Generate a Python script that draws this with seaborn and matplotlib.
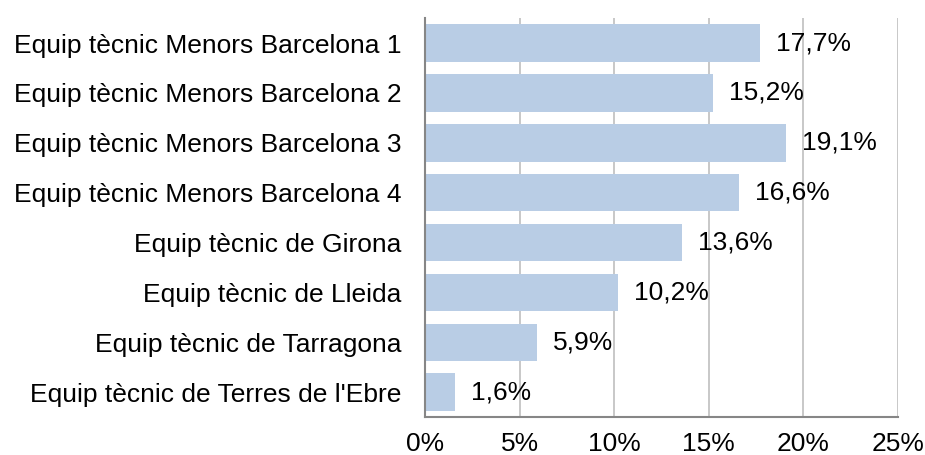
import pandas as pd
import numpy as np
import matplotlib
matplotlib.use("Agg")
import matplotlib.pyplot as plt
import seaborn as sns
from matplotlib.ticker import FixedLocator, FuncFormatter

equips = ["Equip tècnic Menors Barcelona 1", "Equip tècnic Menors Barcelona 2",
          "Equip tècnic Menors Barcelona 3", "Equip tècnic Menors Barcelona 4",
          "Equip tècnic de Girona", "Equip tècnic de Lleida",
          "Equip tècnic de Tarragona", "Equip tècnic de Terres de l'Ebre"]
percent = [17.7, 15.2, 19.1, 16.6, 13.6, 10.2, 5.9, 1.6]
x_ticks = [0, 5, 10, 15, 20, 25]

df = pd.DataFrame({"equip": equips, "pct": percent})

sns.set_style("white")
plt.rcParams["font.family"] = ["Liberation Sans", "DejaVu Sans"]
fs = 19

fig = plt.figure(figsize=(9.25, 4.55), dpi=100)
ax = fig.add_axes([0.4595, 0.0835, 0.5113, 0.8765])

sns.barplot(data=df, x="pct", y="equip", color="#B9CDE5", saturation=1,
            width=0.75, ax=ax, zorder=2, linewidth=0)

ax.set_xlim(0, 25)
ax.set_ylim(len(equips) - 0.5, -0.5)
ax.set_xticks(x_ticks)
ax.xaxis.set_major_formatter(FuncFormatter(lambda v, p: f"{int(v)}%"))
ax.grid(axis="x", color="#BFBFBF", linewidth=1.2, zorder=0)
ax.set_axisbelow(True)

for i, v in enumerate(percent):
    ax.text(v + 0.85, i, f"{v:.1f}%".replace(".", ","), va="center", ha="left",
            fontsize=fs, color="black")

ax.set_xlabel("")
ax.set_ylabel("")
ax.tick_params(axis="x", labelsize=fs, length=5, width=1, color="#868686",
               labelcolor="black", direction="out", pad=6)
ax.tick_params(axis="y", which="major", labelsize=fs, length=0, pad=17,
               labelcolor="black")
ax.yaxis.set_minor_locator(FixedLocator(np.arange(-0.5, len(equips), 1)))
ax.tick_params(axis="y", which="minor", length=5, width=1, color="#868686",
               direction="out")

for s in ["top", "right"]:
    ax.spines[s].set_visible(False)
for s in ["left", "bottom"]:
    ax.spines[s].set_color("#868686")
    ax.spines[s].set_linewidth(1.5)

fig.savefig("out.png", dpi=100)
